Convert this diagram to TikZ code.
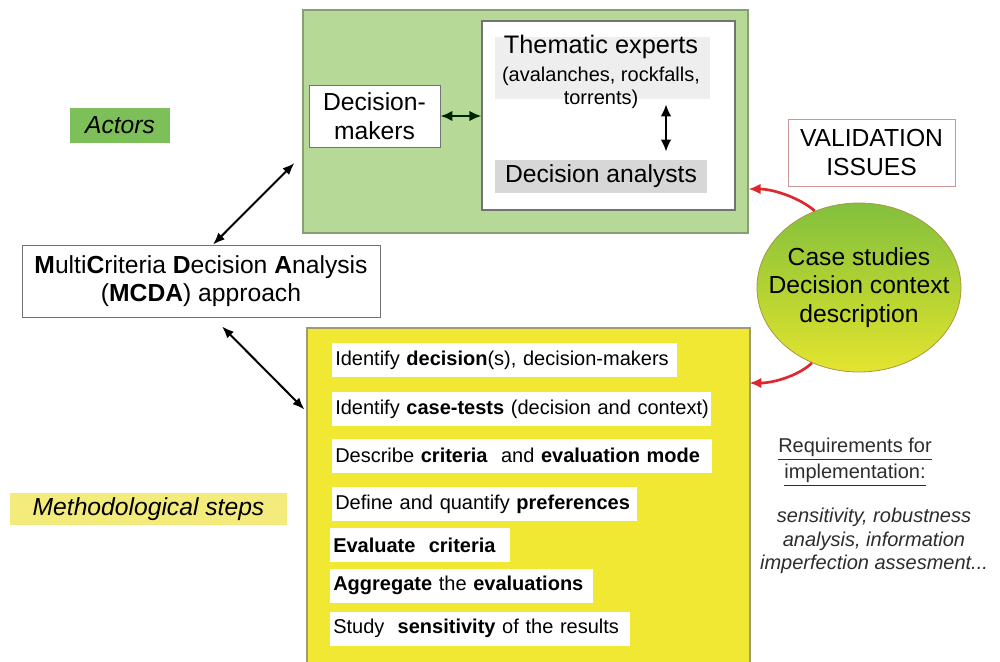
\documentclass[tikz,border=0pt]{standalone}
\usepackage{fontspec}
\setmainfont{Liberation Sans}
\usepackage{tikz}
\usetikzlibrary{shapes.geometric,arrows.meta,calc}

\definecolor{actfill}{RGB}{183,217,152}
\definecolor{actline}{RGB}{135,160,115}
\definecolor{actlabel}{RGB}{125,192,90}
\definecolor{methfill}{RGB}{240,232,50}
\definecolor{methline}{RGB}{160,155,110}
\definecolor{methlabel}{RGB}{243,236,125}
\definecolor{barlight}{RGB}{238,238,238}
\definecolor{bardark}{RGB}{215,215,215}
\definecolor{valline}{RGB}{205,150,150}
\definecolor{arrowred}{RGB}{222,40,45}
\definecolor{csgreen}{RGB}{130,192,62}
\definecolor{csmid}{RGB}{178,210,50}
\definecolor{csyellow}{RGB}{228,228,48}
\definecolor{csline}{RGB}{170,150,70}
\definecolor{reqtext}{RGB}{45,45,45}

\newcommand{\fsbig}{\fontsize{18.5}{21.5}\selectfont}
\newcommand{\fssmall}{\fontsize{15}{17.5}\selectfont}

\tikzset{
  panel/.style={draw=#1, line width=0.8pt, inner sep=0pt},
  whitebox/.style={draw=black!55, fill=white, line width=0.6pt, inner sep=0pt, align=center, font=\fsbig},
  stepbar/.style={fill=white, anchor=west, inner xsep=2.25pt, inner ysep=0pt, minimum height=25.5pt, align=left, font=\fssmall},
  tag/.style={inner sep=0pt, font=\fsbig\itshape},
  dblarrow/.style={{Latex[length=9pt,width=7pt]}-{Latex[length=9pt,width=7pt]}, line width=1.5pt},
  fatarrow/.style={{Latex[length=9pt,width=8pt]}-{Latex[length=9pt,width=8pt]}, line width=2pt},
  redarrow/.style={-{Latex[length=9pt,width=8pt]}, draw=arrowred, line width=2pt},
}

\begin{document}
\begin{tikzpicture}[x=0.75pt,y=0.75pt,yscale=-1,xscale=1]
    \fill[white] (0,0) rectangle (1000,661);
    \path[use as bounding box] (0,0) rectangle (1000,661);

    %Shape: Rectangle (actors panel)
    \node[panel=actline, fill=actfill, minimum width=333.75pt, minimum height=167.25pt] (actors) at (525.5,121.5) {};
    %Shape: Rectangle (team)
    \node[panel=black!55, fill=white, minimum width=189.75pt, minimum height=141.75pt] (team) at (608.5,115.5) {};
    %Shape: Rectangle (steps panel)
    \node[panel=methline, fill=methfill, minimum width=332.25pt, minimum height=251.25pt] (steps) at (528.5,495.5) {};

    % Text Node
    \node[fill=barlight, minimum width=161.25pt, minimum height=46.5pt, inner sep=0pt] (expbar) at (602.5,68) {};
    \node[align=center, inner sep=0pt, font=\fssmall] (experts) at (601,72) {{\fontsize{19}{22}\selectfont Thematic experts}\\[3pt](avalanches, rockfalls,\\torrents)};
    % Text Node
    \node[fill=bardark, minimum width=159pt, minimum height=24.75pt, inner sep=0pt, font=\fsbig] (analysts) at (601,176.5) {Decision analysts};
    % Text Node
    \node[whitebox, minimum width=98.25pt, minimum height=46.5pt] (dm) at (374.5,116) {Decision-\\makers};
    % Text Node
    \node[tag, fill=actlabel, minimum width=75pt, minimum height=26.25pt] (actlab) at (120,125.5) {Actors};
    % Text Node
    \node[whitebox, minimum width=268.5pt, minimum height=54pt] (mcda) at (201,281) {\textbf{M}ulti\textbf{C}riteria \textbf{D}ecision \textbf{A}nalysis\\(\textbf{MCDA}) approach};
    % Text Node
    \node[whitebox, draw=valline, minimum width=125.25pt, minimum height=50.25pt] (valid) at (871.5,152.5) {VALIDATION\\ISSUES};
    % Text Node
    \node[ellipse, draw=csline, line width=0.6pt, top color=csgreen, bottom color=csyellow, middle color=csmid, minimum width=153pt, minimum height=126.75pt, inner xsep=-14pt, inner ysep=0pt, align=center, font=\fsbig] (cases) at (859,287.5) {Case studies\\Decision context\\description};
    % Text Node
    \node[tag, fill=methlabel, minimum width=207.75pt, minimum height=24pt] (methlab) at (148.5,509) {Methodological steps};

    % Text Node (steps)
    \node[stepbar, text width=254.25pt] (s1) at (332,360) {\mbox{Identify \textbf{decision}(s), decision-makers}};
    \node[stepbar, text width=279.75pt] (s2) at (332,409) {\mbox{Identify \textbf{case-tests} (decision and context)}};
    \node[stepbar, text width=280.5pt] (s3) at (332,455.5) {\mbox{Describe \textbf{criteria}\ \ and \textbf{evaluation mode}}};
    \node[stepbar, text width=224.25pt] (s4) at (332,504) {\mbox{Define and quantify \textbf{preferences}}};
    \node[stepbar, text width=130.5pt] (s5) at (330,545) {\mbox{\textbf{Evaluate\ \ criteria}}};
    \node[stepbar, text width=192.75pt] (s6) at (330,585.5) {\mbox{\textbf{Aggregate} the \textbf{evaluations}}};
    \node[stepbar, text width=220.5pt] (s7) at (330,628.5) {\mbox{Study\ \ \textbf{sensitivity} of the results}};

    % Text Node
    \node[align=center, inner sep=0pt, font=\fssmall, text=reqtext] (req) at (855,462) {\underline{Requirements for}\\[2pt]\underline{implementation:}};
    % Text Node
    \node[align=center, inner sep=0pt, font=\fssmall\itshape, text=reqtext] (reqlist) at (874,541) {sensitivity, robustness\\analysis, information\\imperfection assesment...};

    %Straight Lines
    \draw[fatarrow, draw=black!85!green] (dm.east) -- (dm.east -| team.west);
    \draw[fatarrow] ($(expbar.south)+(63.5,5)$) -- ($(analysts.north)+(65,-8)$);
    \draw[dblarrow] ($(mcda.north)+(12,0)$) -- ($(actors.west)+(-8,41.5)$);
    \draw[dblarrow] ($(mcda.south)+(21,9)$) -- ($(steps.west)+(-2,-86)$);

    %Curve Lines
    \draw[redarrow] (cases.120) .. controls +(-15,-13) and +(25,0) .. ($(actors.east)+(0,67.5)$);
    \draw[redarrow] (cases.238) .. controls +(-12,12) and +(25,0) .. ($(steps.west)+(443,-112.5)$);
\end{tikzpicture}
\end{document}
